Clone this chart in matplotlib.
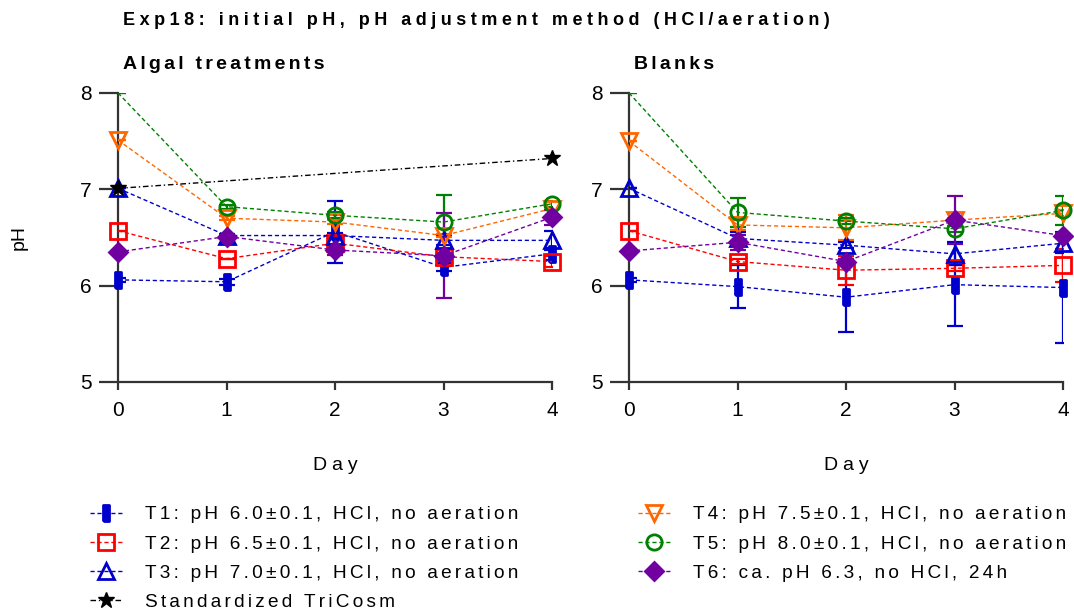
import numpy as np
import matplotlib
matplotlib.use("Agg")
import matplotlib.pyplot as plt

plt.rcParams['font.family'] = ['Liberation Sans', 'DejaVu Sans']

# data
days = [0, 1, 2, 3, 4]

labels = ["T1: pH 6.0±0.1, HCl, no aeration",
          "T2: pH 6.5±0.1, HCl, no aeration",
          "T3: pH 7.0±0.1, HCl, no aeration",
          "T4: pH 7.5±0.1, HCl, no aeration",
          "T5: pH 8.0±0.1, HCl, no aeration",
          "T6: ca. pH 6.3, no HCl, 24h"]
tricosm_label = "Standardized TriCosm"

# algal treatments (mean, sd)
t1_algal = [6.06, 6.04, 6.56, 6.19, 6.33]
t1_algal_sd = [0.02, 0.03, 0.32, 0.04, 0.06]
t2_algal = [6.57, 6.28, 6.44, 6.30, 6.25]
t2_algal_sd = [0.0, 0.0, 0.06, 0.04, 0.06]
t3_algal = [7.01, 6.52, 6.52, 6.47, 6.47]
t3_algal_sd = [0.0, 0.02, 0.03, 0.05, 0.10]
t4_algal = [7.51, 6.70, 6.66, 6.52, 6.80]
t4_algal_sd = [0.0, 0.02, 0.02, 0.02, 0.02]
t5_algal = [8.00, 6.82, 6.73, 6.66, 6.85]
t5_algal_sd = [0.0, 0.02, 0.03, 0.28, 0.03]
t6_algal = [6.35, 6.51, 6.37, 6.31, 6.71]
t6_algal_sd = [0.0, 0.02, 0.05, 0.44, 0.08]

tricosm_days = [0, 4]
tricosm_ph = [7.01, 7.32]

# blanks
t1_blank = [6.06, 5.99, 5.88, 6.01, 5.98]
t1_blank_sd = [0.02, 0.22, 0.36, 0.43, 0.58]
t2_blank = [6.57, 6.25, 6.16, 6.18, 6.21]
t2_blank_sd = [0.0, 0.03, 0.15, 0.03, 0.17]
t3_blank = [7.01, 6.49, 6.42, 6.33, 6.44]
t3_blank_sd = [0.0, 0.07, 0.03, 0.12, 0.10]
t4_blank = [7.50, 6.63, 6.60, 6.68, 6.75]
t4_blank_sd = [0.0, 0.05, 0.13, 0.02, 0.03]
t5_blank = [8.00, 6.76, 6.67, 6.59, 6.78]
t5_blank_sd = [0.0, 0.15, 0.03, 0.03, 0.15]
t6_blank = [6.36, 6.45, 6.25, 6.68, 6.52]
t6_blank_sd = [0.0, 0.08, 0.03, 0.25, 0.03]

colors = ['#0000CC', '#FF0000', '#0000CC', '#FF6600', '#008000', '#7000A0']
bar = [(-0.2, -0.5), (0.2, -0.5), (0.2, 0.5), (-0.2, 0.5), (-0.2, -0.5)]
markers = [bar, 's', '^', 'v', 'o', 'D']
filled = [True, False, False, False, False, True]
msizes = [11, 11, 11, 11, 11, 9]

YMIN, YMAX = 5, 8


def spaced(s, n=1):
    # Prism-like letter spacing
    return ('\u200a' * n).join(s)


def draw_panel(ax, series, title):
    handles = []
    for i, (vals, sd) in enumerate(series):
        c = colors[i]
        shown = [k for k, v in enumerate(vals) if v < YMAX]
        ax.errorbar(days, vals, yerr=sd, fmt='none', ecolor=c,
                    elinewidth=1.6, capsize=5.5, capthick=1.6, zorder=3)
        h, = ax.plot(days, vals, color=c, lw=1.0, ls=(0, (3, 2)),
                     marker=markers[i], ms=msizes[i], mew=2.0,
                     mec=c, mfc=c if filled[i] else 'none',
                     markevery=shown, zorder=4, clip_on=False)
        handles.append(h)
    ax.set_xlim(0, 4)
    ax.set_ylim(YMIN, YMAX)
    ax.set_xticks(days)
    ax.set_yticks([5, 6, 7, 8])
    for s in ['top', 'right']:
        ax.spines[s].set_visible(False)
    for s in ['left', 'bottom']:
        ax.spines[s].set_linewidth(1.6)
        ax.spines[s].set_color('#333333')
    ax.tick_params(axis='y', length=14, width=1.6, color='#333333',
                   labelsize=15, pad=5)
    ax.tick_params(axis='x', length=5.5, width=1.6, color='#333333',
                   labelsize=15, pad=8)
    ax.set_xlabel(spaced("Day", 3), fontsize=14, labelpad=27)
    ax.text(0.0117, 1.1, spaced(title, 2), transform=ax.transAxes,
            fontsize=14, fontweight='bold', ha='left', va='center')
    return handles


fig = plt.figure(figsize=(10.74, 6.14), dpi=100)
ax1 = fig.add_axes([0.1099, 0.3779, 0.4041, 0.4707])
ax2 = fig.add_axes([0.5857, 0.3779, 0.4041, 0.4707])

algal = [(t1_algal, t1_algal_sd), (t2_algal, t2_algal_sd), (t3_algal, t3_algal_sd),
         (t4_algal, t4_algal_sd), (t5_algal, t5_algal_sd), (t6_algal, t6_algal_sd)]
blanks = [(t1_blank, t1_blank_sd), (t2_blank, t2_blank_sd), (t3_blank, t3_blank_sd),
          (t4_blank, t4_blank_sd), (t5_blank, t5_blank_sd), (t6_blank, t6_blank_sd)]

handles = draw_panel(ax1, algal, "Algal treatments")
draw_panel(ax2, blanks, "Blanks")

star, = ax1.plot(tricosm_days, tricosm_ph, color='black', lw=1.0,
                 ls=(0, (4, 2, 1, 2)), marker='*', ms=12, zorder=5, clip_on=False)

ax1.set_ylabel("pH", fontsize=14, labelpad=38)

fig.text(0.1145, 0.967, spaced("Exp18: initial pH, pH adjustment method (HCl/aeration)", 3),
         fontsize=13, fontweight='bold', ha='left', va='center')

leg_kw = dict(frameon=False, fontsize=13.7, handlelength=1.7, handletextpad=1.2,
              labelspacing=0.62, borderaxespad=0)
lab = [spaced(l, 2) for l in labels]
fig.legend(handles[:3] + [star], lab[:3] + [spaced(tricosm_label, 2)],
           loc='upper left', bbox_to_anchor=(0.077, 0.188), **leg_kw)
fig.legend(handles[3:], lab[3:], loc='upper left',
           bbox_to_anchor=(0.587, 0.188), **leg_kw)

fig.savefig("out.png", dpi=100)
